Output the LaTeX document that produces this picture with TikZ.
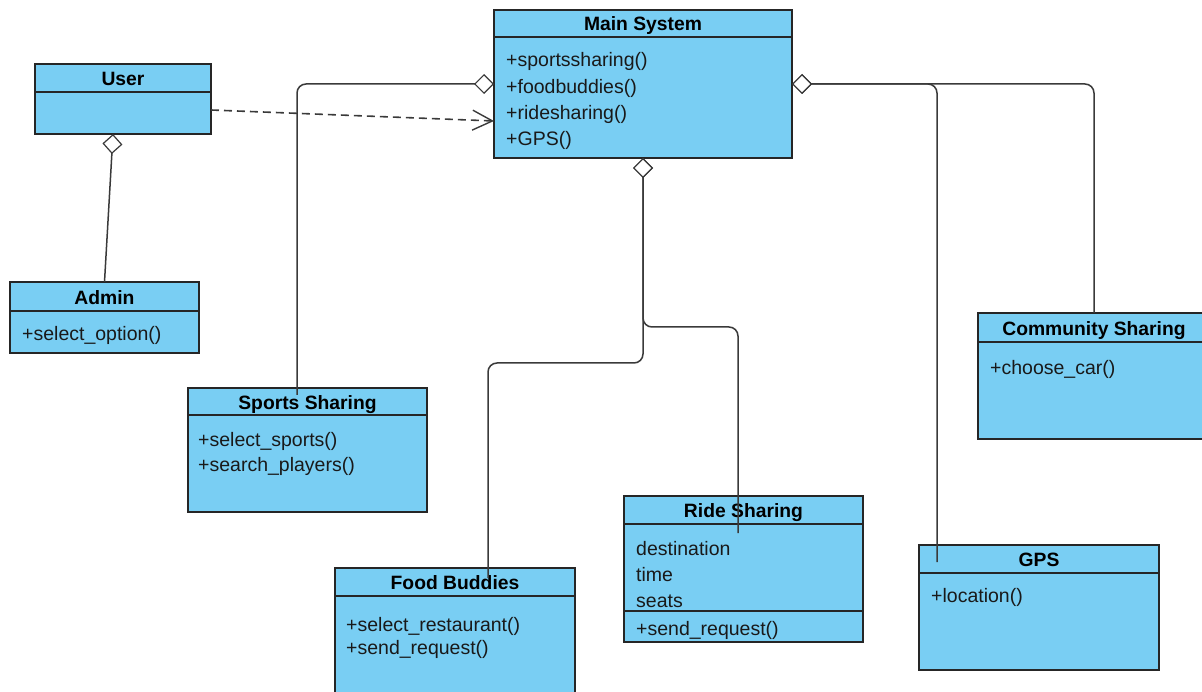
\documentclass[tikz,border=0pt]{standalone}
\usepackage{fontspec}
\setmainfont{Liberation Sans}
\usetikzlibrary{arrows.meta}
\definecolor{classfill}{HTML}{79CEF3}
\definecolor{edgegray}{HTML}{3A3A3A}
\begin{document}
\begin{tikzpicture}[x=1pt,y=-1pt,
  cls/.style={draw=black!85, line width=1.4pt, fill=classfill, inner sep=0pt, outer sep=0pt, anchor=north west},
  ttl/.style={font=\fontsize{19.3}{23}\selectfont\bfseries, text height=16pt, text depth=1pt, inner sep=0pt},
  mem/.style={font=\fontsize{19.5}{23}\selectfont, anchor=west, text height=16pt, text depth=1pt, inner sep=0pt, text=black!90},
  sep/.style={line width=1.4pt, draw=black!85},
  link/.style={draw=edgegray, line width=1.5pt, rounded corners=9pt},
  agg/.style={link, -{Diamond[fill=white, length=20pt, width=20pt, line width=1.2pt]}},
  dep/.style={draw=edgegray, line width=1.6pt, dash pattern=on 8pt off 5pt,
    -{Straight Barb[length=20pt, width=20pt, line width=1.4pt]}}
]
\useasboundingbox (0,0) rectangle (1202,692);

% ---------- classes ----------
% Main System
\node[cls, minimum width=298pt, minimum height=148pt] (main) at (494,10) {};
\draw[sep] (494,37) -- (792,37);
\node[ttl] (main-t) at (643,23) {Main System};
\node[mem] (main-m1) at (506,59) {+sportssharing()};
\node[mem] (main-m2) at (506,86) {+foodbuddies()};
\node[mem] (main-m3) at (506,112) {+ridesharing()};
\node[mem] (main-m4) at (506,138) {+GPS()};

% User
\node[cls, minimum width=176pt, minimum height=70pt] (user) at (35,64) {};
\draw[sep] (35,92) -- (211,92);
\node[ttl] (user-t) at (123,78) {User};

% Admin
\node[cls, minimum width=189pt, minimum height=71pt] (admin) at (10,282) {};
\draw[sep] (10,311) -- (199,311);
\node[ttl] (admin-t) at (104.5,297) {Admin};
\node[mem] (admin-m1) at (22,333) {+select\_option()};

% Sports Sharing
\node[cls, minimum width=239pt, minimum height=124pt] (sports) at (188,388) {};
\draw[sep] (188,415) -- (427,415);
\node[ttl] (sports-t) at (307.5,402) {Sports Sharing};
\node[mem] (sports-m1) at (198,439) {+select\_sports()};
\node[mem] (sports-m2) at (198,464) {+search\_players()};

% Food Buddies
\node[cls, minimum width=240pt, minimum height=140pt] (food) at (335,568) {};
\draw[sep] (335,596) -- (575,596);
\node[ttl] (food-t) at (455,582) {Food Buddies};
\node[mem] (food-m1) at (346,624) {+select\_restaurant()};
\node[mem] (food-m2) at (346,647) {+send\_request()};

% Ride Sharing
\node[cls, minimum width=239pt, minimum height=146pt] (ride) at (624,496) {};
\draw[sep] (624,524) -- (863,524);
\draw[sep] (624,611) -- (863,611);
\node[ttl] (ride-t) at (743.5,510) {Ride Sharing};
\node[mem] (ride-a1) at (636,548) {destination};
\node[mem] (ride-a2) at (636,574) {time};
\node[mem] (ride-a3) at (636,600) {seats};
\node[mem] (ride-m1) at (636,628) {+send\_request()};

% GPS
\node[cls, minimum width=240pt, minimum height=125pt] (gps) at (919,545) {};
\draw[sep] (919,573) -- (1159,573);
\node[ttl] (gps-t) at (1039,559) {GPS};
\node[mem] (gps-m1) at (931,595) {+location()};

% Community Sharing
\node[cls, minimum width=232pt, minimum height=126pt] (comm) at (978,313) {};
\draw[sep] (978,342) -- (1210,342);
\node[ttl] (comm-t) at (1094,328) {Community Sharing};
\node[mem] (comm-m1) at (990,367) {+choose\_car()};

% ---------- relations ----------
\coordinate (user-agg) at (113,134);
\coordinate (user-dep) at (211,110);
\coordinate (main-dep) at (494,121);
\coordinate (sports-in) at (297,395);
\coordinate (food-in) at (488,578);
\coordinate (ride-in) at (738,533);
\coordinate (gps-in) at (937,562);

\draw[agg] (admin.north) -- (user-agg);
\draw[dep] (user-dep) -- (main-dep);
\draw[agg] (sports-in) |- (main.west);
\draw[agg] (comm.north) |- (main.east);
\draw[agg] (gps-in) |- (main.east);
\draw[agg] (ride-in) -- (738,327) -| (main.south);
\draw[agg] (food-in) -- (488,363) -| (main.south);
\end{tikzpicture}
\end{document}
